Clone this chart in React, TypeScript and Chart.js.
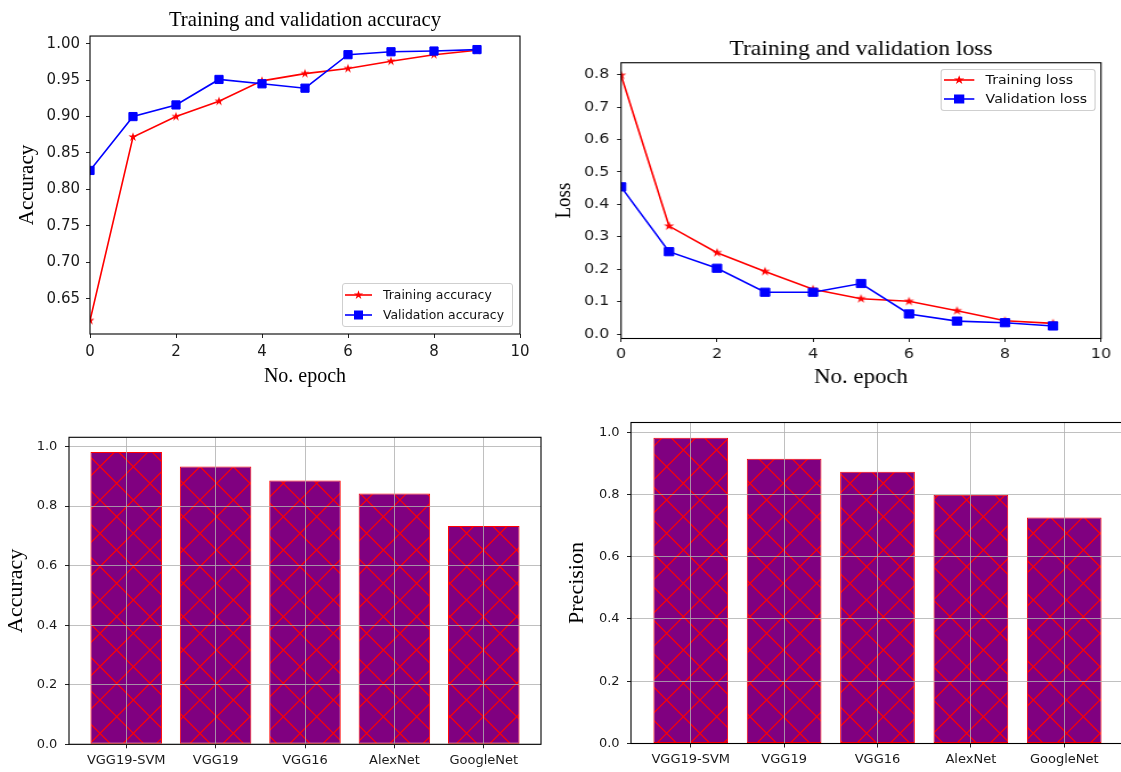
import React, { useEffect, useRef } from 'react';
import { Chart, registerables } from 'chart.js';

Chart.register(...registerables);

// ---------------- data ----------------
const epochs = [0, 1, 2, 3, 4, 5, 6, 7, 8, 9];
const trainAccuracy = [0.62, 0.872, 0.9, 0.921, 0.949, 0.959, 0.966, 0.976, 0.985, 0.991];
const validationAccuracy = [0.826, 0.9, 0.916, 0.951, 0.945, 0.939, 0.985, 0.989, 0.99, 0.992];
const trainLoss = [0.798, 0.333, 0.251, 0.193, 0.138, 0.109, 0.101, 0.072, 0.041, 0.033];
const validationLoss = [0.454, 0.254, 0.203, 0.129, 0.129, 0.156, 0.062, 0.04, 0.035, 0.025];
const models = ['VGG19-SVM', 'VGG19', 'VGG16', 'AlexNet', 'GoogleNet'];
const modelAccuracy = [0.982, 0.933, 0.886, 0.842, 0.733];
const modelPrecision = [0.982, 0.915, 0.873, 0.799, 0.726];

// tick labels
const epochTicks = [0, 2, 4, 6, 8, 10];
const accuracyTicks = [0.65, 0.7, 0.75, 0.8, 0.85, 0.9, 0.95, 1.0];
const lossTicks = [0.0, 0.1, 0.2, 0.3, 0.4, 0.5, 0.6, 0.7, 0.8];
const barTicks = [0.0, 0.2, 0.4, 0.6, 0.8, 1.0];
const modelTicks = [0, 1, 2, 3, 4];

// ---------------- styling ----------------
const SERIF = "'Liberation Serif', 'Times New Roman', serif";
const SANS = "'DejaVu Sans', sans-serif";
const TEXT = '#1a1a1a';
const TICK = '#222222';
const GRID = 'rgba(176,176,176,0.8)';
const RED = '#ff0000';
const BLUE = '#0000ff';
const PURPLE = '#800080';

function autoRange(vals: number[], m = 0.05): [number, number] {
  const mn = Math.min(...vals);
  const mx = Math.max(...vals);
  const s = mx - mn;
  return [mn - m * s, mx + m * s];
}

function starPoints(cx: number, cy: number, r: number): string {
  const pts: string[] = [];
  for (let i = 0; i < 10; i++) {
    const rad = i % 2 === 0 ? r : r * 0.382;
    const a = -Math.PI / 2 + (i * Math.PI) / 5;
    pts.push(`${cx + rad * Math.cos(a)},${cy + rad * Math.sin(a)}`);
  }
  return pts.join(' ');
}

function starImage(color: string, r: number): HTMLCanvasElement {
  const size = Math.ceil(r * 2 + 2);
  const c = document.createElement('canvas');
  c.width = size;
  c.height = size;
  const ctx = c.getContext('2d')!;
  const cx = size / 2;
  const cy = size / 2;
  ctx.beginPath();
  for (let i = 0; i < 10; i++) {
    const rad = i % 2 === 0 ? r : r * 0.382;
    const a = -Math.PI / 2 + (i * Math.PI) / 5;
    const x = cx + rad * Math.cos(a);
    const y = cy + rad * Math.sin(a);
    if (i === 0) ctx.moveTo(x, y);
    else ctx.lineTo(x, y);
  }
  ctx.closePath();
  ctx.fillStyle = color;
  ctx.fill();
  return c;
}

function hatchPattern(ctx: CanvasRenderingContext2D, pageLeft: number, pageTop: number): CanvasPattern {
  const S = 100;
  const T = S / 3;
  const tile = document.createElement('canvas');
  tile.width = S;
  tile.height = S;
  const t = tile.getContext('2d')!;
  t.fillStyle = PURPLE;
  t.fillRect(0, 0, S, S);
  t.strokeStyle = RED;
  t.lineWidth = 1.2;
  t.beginPath();
  for (let k = -4; k <= 4; k++) {
    const c = k * T;
    t.moveTo(c - 10, -10);
    t.lineTo(c + S + 10, S + 10);
  }
  for (let k = 0; k <= 7; k++) {
    const c = k * T;
    t.moveTo(c + 10, -10);
    t.lineTo(c - S - 10, S + 10);
  }
  t.stroke();
  const p = ctx.createPattern(tile, 'repeat')!;
  if ((p as any).setTransform && typeof DOMMatrix !== 'undefined') {
    p.setTransform(new DOMMatrix([1, 0, 0, 1, -pageLeft, -pageTop]));
  }
  return p;
}

const framePlugin = {
  id: 'axesFrame',
  afterDraw(chart: any) {
    const { ctx, chartArea: a } = chart;
    ctx.save();
    ctx.strokeStyle = '#000';
    ctx.lineWidth = 1.1;
    ctx.strokeRect(a.left, a.top, a.right - a.left, a.bottom - a.top);
    ctx.restore();
  },
};

// ---------------- line panels ----------------
type Series = { label: string; values: number[]; color: string; marker: 'star' | 'square'; order: number };

type LinePanelSpec = {
  width: number;
  height: number;
  padRight: number;
  yWidth: number;
  xHeight: number;
  title: string;
  titleSize: number;
  titlePad: { top: number; bottom: number };
  xTitle: string;
  xTitleSize: number;
  xTitlePad: number;
  yTitle: string;
  yTitleSize: number;
  yTitlePad: number;
  tickSize: number;
  xTickPad: number;
  yTickPad: number;
  tickLen: number;
  yTicks: number[];
  yDecimals: number;
  series: Series[];
};

function lineConfig(p: LinePanelSpec): any {
  const [yMin, yMax] = autoRange(p.series.flatMap((s) => s.values));
  return {
    type: 'line',
    data: {
      datasets: p.series.map((s) => ({
        label: s.label,
        data: epochs.map((e, k) => ({ x: e, y: s.values[k] })),
        borderColor: s.color,
        backgroundColor: s.color,
        borderWidth: 1.6,
        tension: 0,
        fill: false,
        pointStyle: s.marker === 'star' ? starImage(s.color, 4.8) : 'rect',
        pointRadius: s.marker === 'star' ? 4.8 : 5.8,
        pointBorderWidth: s.marker === 'star' ? 0 : 1,
        pointBackgroundColor: s.color,
        pointBorderColor: s.color,
        order: s.order,
      })),
    },
    options: {
      animation: false,
      responsive: false,
      maintainAspectRatio: false,
      events: [],
      layout: { padding: { left: 0, right: p.padRight, top: 0, bottom: 0 } },
      plugins: {
        legend: { display: false },
        tooltip: { enabled: false },
        title: {
          display: true,
          text: p.title,
          color: '#000',
          fullSize: false,
          font: { family: SERIF, size: p.titleSize, weight: 'normal' },
          padding: p.titlePad,
        },
      },
      scales: {
        x: {
          type: 'linear',
          min: 0,
          max: 10,
          afterFit: (s: any) => {
            s.height = p.xHeight;
          },
          afterBuildTicks: (s: any) => {
            s.ticks = epochTicks.map((v) => ({ value: v }));
          },
          ticks: {
            color: TEXT,
            padding: p.xTickPad,
            maxRotation: 0,
            autoSkip: false,
            font: { family: SANS, size: p.tickSize },
            callback: (v: any) => String(v),
          },
          grid: {
            display: true,
            drawOnChartArea: false,
            drawTicks: true,
            tickLength: p.tickLen,
            tickColor: TICK,
            tickWidth: 1,
          },
          border: { display: false },
          title: {
            display: true,
            text: p.xTitle,
            color: '#000',
            font: { family: SERIF, size: p.xTitleSize, weight: 'normal' },
            padding: { top: 0, bottom: p.xTitlePad },
          },
        },
        y: {
          type: 'linear',
          min: yMin,
          max: yMax,
          afterFit: (s: any) => {
            s.width = p.yWidth;
          },
          afterBuildTicks: (s: any) => {
            s.ticks = p.yTicks.map((v) => ({ value: v }));
          },
          ticks: {
            color: TEXT,
            padding: p.yTickPad,
            autoSkip: false,
            font: { family: SANS, size: p.tickSize },
            callback: (v: any) => Number(v).toFixed(p.yDecimals),
          },
          grid: {
            display: true,
            drawOnChartArea: false,
            drawTicks: true,
            tickLength: p.tickLen,
            tickColor: TICK,
            tickWidth: 1,
          },
          border: { display: false },
          title: {
            display: true,
            text: p.yTitle,
            color: '#000',
            font: { family: SERIF, size: p.yTitleSize, weight: 'normal' },
            padding: { top: p.yTitlePad, bottom: 0 },
          },
        },
      },
    },
    plugins: [framePlugin],
  };
}

// ---------------- bar panels ----------------
type BarPanelSpec = {
  pageLeft: number;
  pageTop: number;
  width: number;
  height: number;
  padTop: number;
  padRight: number;
  yWidth: number;
  xHeight: number;
  yTitle: string;
  yTitleSize: number;
  yTitlePad: number;
  tickSize: number;
  xTickPad: number;
  yTickPad: number;
  values: number[];
};

function barConfig(p: BarPanelSpec, pattern: CanvasPattern): any {
  const yMax = Math.max(...p.values) * 1.05;
  const span = models.length - 1 + 0.8;
  const xMin = -0.4 - 0.05 * span;
  const xMax = models.length - 1 + 0.4 + 0.05 * span;
  return {
    type: 'bar',
    data: {
      datasets: [
        {
          data: p.values.map((v, i) => ({ x: i, y: v })),
          backgroundColor: pattern,
          borderColor: RED,
          borderWidth: 1,
          borderSkipped: false,
          barPercentage: 0.8,
          categoryPercentage: 1,
        },
      ],
    },
    options: {
      animation: false,
      responsive: false,
      maintainAspectRatio: false,
      events: [],
      layout: { padding: { left: 0, right: p.padRight, top: p.padTop, bottom: 0 } },
      plugins: { legend: { display: false }, tooltip: { enabled: false }, title: { display: false } },
      scales: {
        x: {
          type: 'linear',
          min: xMin,
          max: xMax,
          offset: false,
          z: 1,
          afterFit: (s: any) => {
            s.height = p.xHeight;
          },
          afterBuildTicks: (s: any) => {
            s.ticks = modelTicks.map((v) => ({ value: v }));
          },
          ticks: {
            color: TEXT,
            padding: p.xTickPad,
            maxRotation: 0,
            autoSkip: false,
            font: { family: SANS, size: p.tickSize },
            callback: (v: any) => models[Math.round(Number(v))] ?? '',
          },
          grid: {
            display: true,
            drawOnChartArea: true,
            offset: false,
            z: 1,
            color: GRID,
            lineWidth: 1,
            drawTicks: true,
            tickLength: 4,
            tickColor: TICK,
            tickWidth: 1,
          },
          border: { display: false },
        },
        y: {
          type: 'linear',
          min: 0,
          max: yMax,
          z: 1,
          afterFit: (s: any) => {
            s.width = p.yWidth;
          },
          afterBuildTicks: (s: any) => {
            s.ticks = barTicks.map((v) => ({ value: v }));
          },
          ticks: {
            color: TEXT,
            padding: p.yTickPad,
            autoSkip: false,
            font: { family: SANS, size: p.tickSize },
            callback: (v: any) => Number(v).toFixed(1),
          },
          grid: {
            display: true,
            drawOnChartArea: true,
            z: 1,
            color: GRID,
            lineWidth: 1,
            drawTicks: true,
            tickLength: 4,
            tickColor: TICK,
            tickWidth: 1,
          },
          border: { display: false },
          title: {
            display: true,
            text: p.yTitle,
            color: '#000',
            font: { family: SERIF, size: p.yTitleSize, weight: 'normal' },
            padding: { top: p.yTitlePad, bottom: 0 },
          },
        },
      },
    },
    plugins: [framePlugin],
  };
}

// ---------------- components ----------------
function LineChartCanvas({ spec }: { spec: LinePanelSpec }) {
  const ref = useRef<HTMLCanvasElement | null>(null);
  useEffect(() => {
    const chart = new Chart(ref.current as HTMLCanvasElement, lineConfig(spec));
    return () => chart.destroy();
  }, []);
  return <canvas ref={ref} width={spec.width} height={spec.height} style={{ display: 'block', width: spec.width, height: spec.height }} />;
}

function BarChartCanvas({ spec }: { spec: BarPanelSpec }) {
  const ref = useRef<HTMLCanvasElement | null>(null);
  useEffect(() => {
    const canvas = ref.current as HTMLCanvasElement;
    const pattern = hatchPattern(canvas.getContext('2d')!, spec.pageLeft, spec.pageTop);
    const chart = new Chart(canvas, barConfig(spec, pattern));
    return () => chart.destroy();
  }, []);
  return <canvas ref={ref} width={spec.width} height={spec.height} style={{ display: 'block', width: spec.width, height: spec.height }} />;
}

type LegendRow = { label: string; color: string; marker: 'star' | 'square'; y: number };

function Legend({ left, top, width, height, hx0, hx1, tx, font, rows }: { left: number; top: number; width: number; height: number; hx0: number; hx1: number; tx: number; font: number; rows: LegendRow[] }) {
  const w = hx1 - hx0;
  return (
    <div
      style={{
        position: 'absolute',
        left,
        top,
        width,
        height,
        boxSizing: 'border-box',
        border: '1px solid #cfcfcf',
        borderRadius: 3,
        background: 'rgba(255,255,255,0.85)',
      }}
    >
      {rows.map((r, i) => (
        <React.Fragment key={i}>
          <svg width={w} height={12} style={{ position: 'absolute', left: hx0 - 1, top: r.y - 7, overflow: 'visible' }}>
            <line x1={0} y1={6} x2={w} y2={6} stroke={r.color} strokeWidth={1.6} />
            {r.marker === 'star' ? (
              <polygon points={starPoints(w / 2, 6, 4.8)} fill={r.color} />
            ) : (
              <rect x={w / 2 - 4.5} y={1.5} width={9} height={9} fill={r.color} />
            )}
          </svg>
          <span
            style={{
              position: 'absolute',
              left: tx - 1,
              top: r.y - 1,
              transform: 'translateY(-50%)',
              font: `${font}px ${SANS}`,
              lineHeight: 1,
              whiteSpace: 'nowrap',
              color: '#111',
            }}
          >
            {r.label}
          </span>
        </React.Fragment>
      ))}
    </div>
  );
}

// ---------------- panel specs ----------------
const accuracySpec: LinePanelSpec = {
  width: 545,
  height: 395,
  padRight: 25,
  yWidth: 90,
  xHeight: 61,
  title: 'Training and validation accuracy',
  titleSize: 20.7,
  titlePad: { top: 8.1, bottom: 3.1 },
  xTitle: 'No. epoch',
  xTitleSize: 20,
  xTitlePad: 6,
  yTitle: 'Accuracy',
  yTitleSize: 21,
  yTitlePad: 14.4,
  tickSize: 15,
  xTickPad: 5,
  yTickPad: 6,
  tickLen: 4,
  yTicks: accuracyTicks,
  yDecimals: 2,
  series: [
    { label: 'Training accuracy', values: trainAccuracy, color: RED, marker: 'star', order: 1 },
    { label: 'Validation accuracy', values: validationAccuracy, color: BLUE, marker: 'square', order: 0 },
  ],
};

const LOSS_SX = 1.14;
const lossSpec: LinePanelSpec = {
  width: 506,
  height: 395,
  padRight: 18.3,
  yWidth: 66.7,
  xHeight: 56.5,
  title: 'Training and validation loss',
  titleSize: 20.7,
  titlePad: { top: 36.9, bottom: 1.0 },
  xTitle: 'No. epoch',
  xTitleSize: 20,
  xTitlePad: 5,
  yTitle: 'Loss',
  yTitleSize: 19,
  yTitlePad: 5.3,
  tickSize: 14,
  xTickPad: 4.1,
  yTickPad: 6.8,
  tickLen: 3.5,
  yTicks: lossTicks,
  yDecimals: 1,
  series: [
    { label: 'Training loss', values: trainLoss, color: RED, marker: 'star', order: 1 },
    { label: 'Validation loss', values: validationLoss, color: BLUE, marker: 'square', order: 0 },
  ],
};

const barAccuracySpec: BarPanelSpec = {
  pageLeft: 0,
  pageTop: 400,
  width: 545,
  height: 372,
  padTop: 37.3,
  padRight: 4,
  yWidth: 69,
  xHeight: 27.7,
  yTitle: 'Accuracy',
  yTitleSize: 22,
  yTitlePad: 2.8,
  tickSize: 13,
  xTickPad: 4.6,
  yTickPad: 7.7,
  values: modelAccuracy,
};

const barPrecisionSpec: BarPanelSpec = {
  pageLeft: 545,
  pageTop: 390,
  width: 581,
  height: 382,
  padTop: 32.5,
  padRight: 2,
  yWidth: 86,
  xHeight: 28.5,
  yTitle: 'Precision',
  yTitleSize: 22,
  yTitlePad: 18.8,
  tickSize: 13,
  xTickPad: 4.7,
  yTickPad: 7.4,
  values: modelPrecision,
};

export default function App() {
  return (
    <div style={{ position: 'absolute', left: 0, top: 0, width: 1121, height: 772, overflow: 'hidden', background: '#ffffff' }}>
      <div style={{ position: 'absolute', left: 0, top: 0, width: 545, height: 395 }}>
        <LineChartCanvas spec={accuracySpec} />
        <Legend
          left={341.7}
          top={282.7}
          width={171.3}
          height={44.3}
          hx0={3.3}
          hx1={30.3}
          tx={41.3}
          font={12.4}
          rows={[
            { label: 'Training accuracy', color: RED, marker: 'star', y: 12.3 },
            { label: 'Validation accuracy', color: BLUE, marker: 'square', y: 32.3 },
          ]}
        />
      </div>
      <div
        style={{
          position: 'absolute',
          left: 545,
          top: 0,
          width: 506,
          height: 395,
          transform: `scaleX(${LOSS_SX})`,
          transformOrigin: '0 0',
        }}
      >
        <LineChartCanvas spec={lossSpec} />
        <Legend
          left={346.5}
          top={69.3}
          width={136.4}
          height={41.4}
          hx0={3.2}
          hx1={29.8}
          tx={40}
          font={12.4}
          rows={[
            { label: 'Training loss', color: RED, marker: 'star', y: 10.7 },
            { label: 'Validation loss', color: BLUE, marker: 'square', y: 30 },
          ]}
        />
      </div>
      <div style={{ position: 'absolute', left: 0, top: 400, width: 545, height: 372 }}>
        <BarChartCanvas spec={barAccuracySpec} />
      </div>
      <div style={{ position: 'absolute', left: 545, top: 390, width: 581, height: 382 }}>
        <BarChartCanvas spec={barPrecisionSpec} />
      </div>
    </div>
  );
}
